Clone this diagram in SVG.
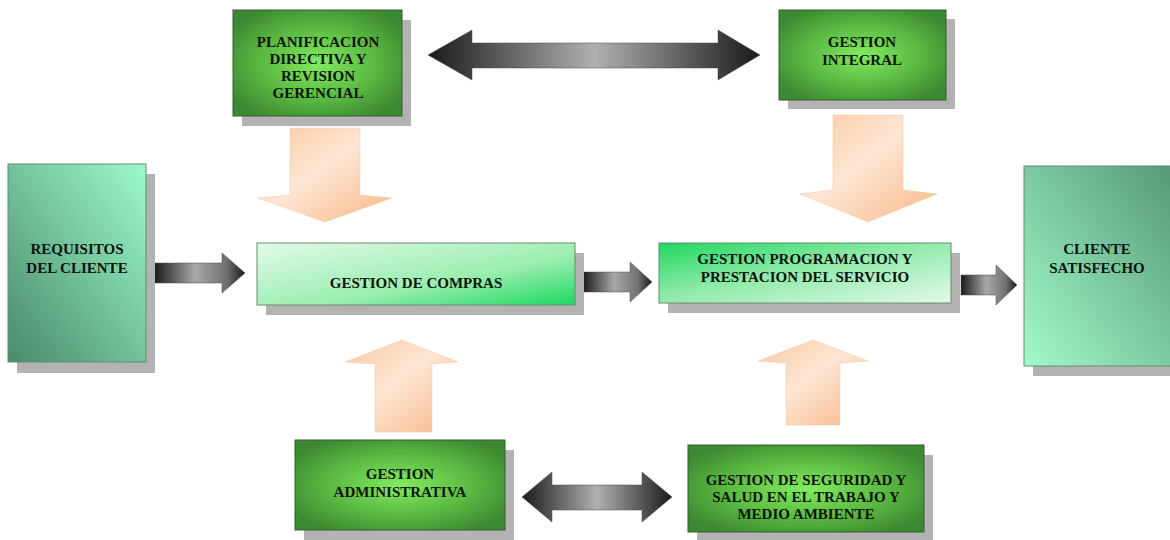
<svg xmlns="http://www.w3.org/2000/svg" width="1170" height="540" viewBox="0 0 1170 540">
<defs>
<radialGradient id="gDark" cx="0.5" cy="0.5" r="0.6">
<stop offset="0" stop-color="#82ec5e"/>
<stop offset="0.6" stop-color="#58b540"/>
<stop offset="1" stop-color="#3d8832"/>
</radialGradient>
<linearGradient id="gCompras" x1="0" y1="0" x2="1" y2="1">
<stop offset="0" stop-color="#e2fae8"/>
<stop offset="0.6" stop-color="#9aeeb0"/>
<stop offset="1" stop-color="#1ed860"/>
</linearGradient>
<linearGradient id="gProg" x1="0" y1="0" x2="1" y2="1">
<stop offset="0" stop-color="#1ed860"/>
<stop offset="0.45" stop-color="#8eeaa8"/>
<stop offset="1" stop-color="#e2fae8"/>
</linearGradient>
<linearGradient id="gReq" x1="1" y1="0" x2="0" y2="1">
<stop offset="0" stop-color="#9cfacb"/>
<stop offset="1" stop-color="#4a8a6b"/>
</linearGradient>
<linearGradient id="gCli" x1="1" y1="0" x2="0" y2="1">
<stop offset="0" stop-color="#579978"/>
<stop offset="1" stop-color="#a2facb"/>
</linearGradient>
<linearGradient id="gPeach" x1="0" y1="0" x2="1" y2="1">
<stop offset="0" stop-color="#fbc9a0"/>
<stop offset="0.45" stop-color="#fde6d4"/>
<stop offset="1" stop-color="#f8b686"/>
</linearGradient>
<linearGradient id="gGray" x1="0" y1="0" x2="1" y2="0">
<stop offset="0" stop-color="#1a1a1a"/>
<stop offset="0.5" stop-color="#b0b0b0"/>
<stop offset="1" stop-color="#1a1a1a"/>
</linearGradient>
<linearGradient id="gGray1" x1="0" y1="0" x2="1" y2="0">
<stop offset="0" stop-color="#1a1a1a"/>
<stop offset="0.45" stop-color="#a8a8a8"/>
<stop offset="0.8" stop-color="#707070"/>
<stop offset="1" stop-color="#1a1a1a"/>
</linearGradient>
</defs>
<style>
.sh{fill:#b3b3b3}
.dk{fill:url(#gDark);stroke:#355f30;stroke-width:1}
.lt{stroke:#6a8a70;stroke-width:1}
.t{font-family:"Liberation Serif","Times New Roman",serif;font-weight:bold;font-size:15px;fill:#0c140c;text-anchor:middle}
.pe{fill:url(#gPeach);stroke:#f5c6a2;stroke-width:0.5}
.ga{stroke:#4a4a4a;stroke-width:0.5}
</style>
<rect width="1170" height="540" fill="#fff"/>

<g id="connectors">
<path class="ga" fill="url(#gGray)" d="M428,55 L472,30 L472,43 L718,43 L718,30 L760,55 L718,80 L718,68 L472,68 L472,80 Z"/>
<path class="ga" fill="url(#gGray)" d="M522,497 L552,472 L552,485 L642,485 L642,472 L672,497 L642,522 L642,510 L552,510 L552,522 Z"/>
<path class="ga" fill="url(#gGray1)" d="M154,263 L222,263 L222,253 L245,273 L222,293 L222,283 L154,283 Z"/>
<path class="ga" fill="url(#gGray1)" d="M583,272 L630,272 L630,262 L652,282 L630,302 L630,292 L583,292 Z"/>
<path class="ga" fill="url(#gGray1)" d="M961,275 L996,275 L996,265 L1017,285 L996,305 L996,295 L961,295 Z"/>
<path class="pe" d="M290,128 L360,128 L360,195 L392,198 L325,222 L258,198 L290,195 Z"/>
<path class="pe" d="M833,115 L903,115 L903,190 L937,194 L868,222 L800,194 L833,190 Z"/>
<path class="pe" d="M375,432 L432,432 L432,364 L458,362 L402,340 L345,362 L375,364 Z"/>
<path class="pe" d="M786,425 L840,425 L840,363 L868,361 L813,340 L758,361 L786,363 Z"/>
</g>

<g id="planificacion">
<rect class="sh" x="242" y="20" width="169" height="106"/>
<rect class="dk" x="233" y="10" width="169" height="106"/>
<text class="t" x="318" y="47">PLANIFICACION</text>
<text class="t" x="318" y="64">DIRECTIVA Y</text>
<text class="t" x="318" y="81">REVISION</text>
<text class="t" x="318" y="98">GERENCIAL</text>
</g>

<g id="integral">
<rect class="sh" x="788" y="19" width="167" height="90"/>
<rect class="dk" x="779" y="10" width="167" height="90"/>
<text class="t" x="862" y="47">GESTION</text>
<text class="t" x="862" y="65">INTEGRAL</text>
</g>

<g id="requisitos">
<rect class="sh" x="17" y="174" width="138" height="199"/>
<rect class="lt" fill="url(#gReq)" x="8" y="164" width="138" height="198"/>
<text class="t" x="77" y="254">REQUISITOS</text>
<text class="t" x="77" y="273">DEL CLIENTE</text>
</g>

<g id="compras">
<rect class="sh" x="266" y="253" width="318" height="62"/>
<rect class="lt" fill="url(#gCompras)" x="257" y="243" width="318" height="62"/>
<text class="t" x="416" y="288">GESTION DE COMPRAS</text>
</g>

<g id="programacion">
<rect class="sh" x="668" y="253" width="292" height="60"/>
<rect class="lt" fill="url(#gProg)" x="659" y="243" width="292" height="60"/>
<text class="t" x="805" y="264">GESTION PROGRAMACION Y</text>
<text class="t" x="805" y="282">PRESTACION DEL SERVICIO</text>
</g>

<g id="cliente">
<rect class="sh" x="1033" y="176" width="140" height="200"/>
<rect class="lt" fill="url(#gCli)" x="1024" y="166" width="148" height="200"/>
<text class="t" x="1097" y="254">CLIENTE</text>
<text class="t" x="1097" y="273">SATISFECHO</text>
</g>

<g id="administrativa">
<rect class="sh" x="304" y="450" width="210" height="90"/>
<rect class="dk" x="295" y="440" width="210" height="90"/>
<text class="t" x="400" y="479">GESTION</text>
<text class="t" x="400" y="497">ADMINISTRATIVA</text>
</g>

<g id="seguridad">
<rect class="sh" x="697" y="455" width="236" height="87"/>
<rect class="dk" x="688" y="445" width="236" height="87"/>
<text class="t" x="806" y="485">GESTION DE SEGURIDAD Y</text>
<text class="t" x="806" y="502">SALUD EN EL TRABAJO Y</text>
<text class="t" x="806" y="519">MEDIO AMBIENTE</text>
</g>
</svg>
